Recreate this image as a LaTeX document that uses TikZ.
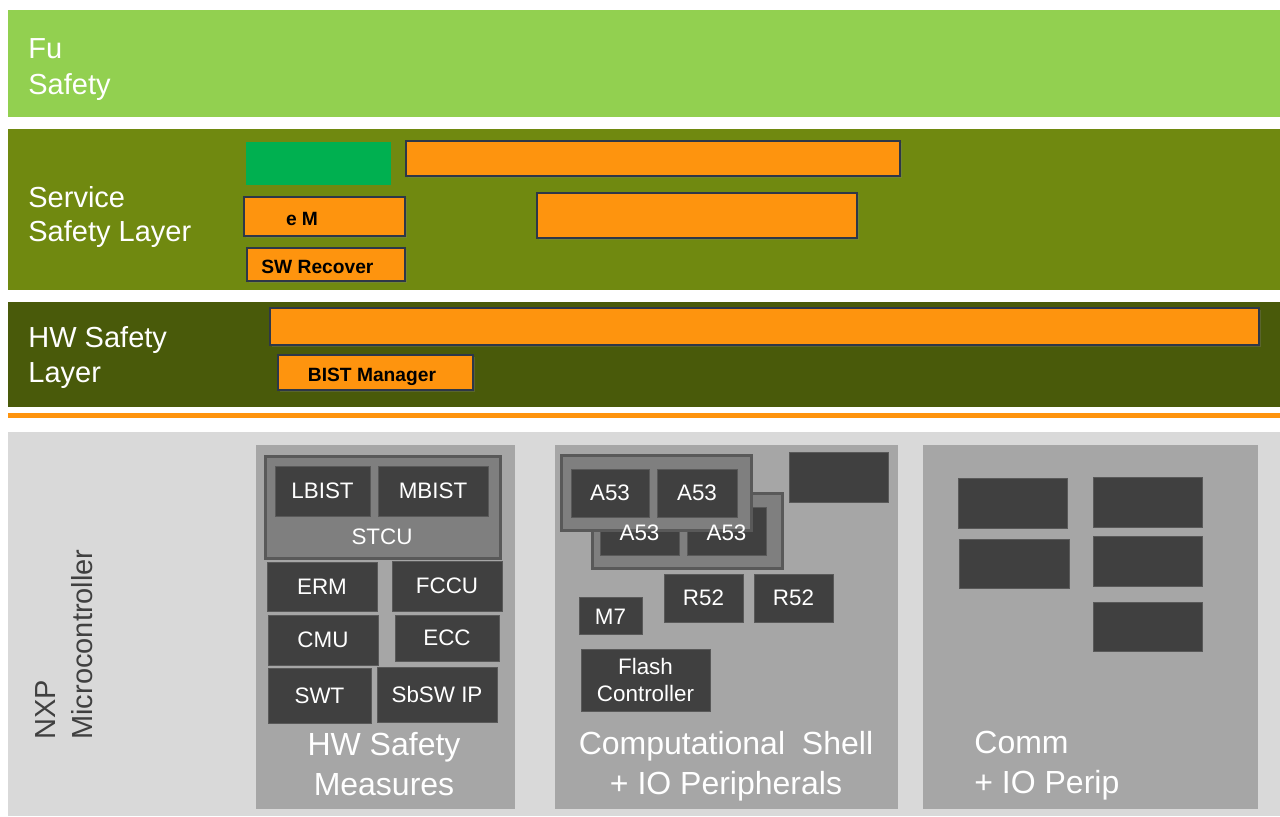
\documentclass[tikz,border=0pt]{standalone}
\usepackage{fontspec}
\setmainfont{Liberation Sans}
\usetikzlibrary{fit,shadows}
\definecolor{lgreen}{RGB}{146,208,80}
\definecolor{olive}{RGB}{112,137,16}
\definecolor{dolive}{RGB}{73,90,10}
\definecolor{org}{RGB}{254,148,14}
\definecolor{bgray}{RGB}{217,217,217}
\definecolor{pgray}{RGB}{166,166,166}
\definecolor{dgray}{RGB}{64,64,64}
\definecolor{mgray}{RGB}{127,127,127}
\definecolor{fgray}{RGB}{89,89,89}
\definecolor{sgreen}{RGB}{0,176,80}
\definecolor{oedge}{RGB}{45,55,72}
\tikzset{
 band/.style={draw=none, inner sep=0, rectangle},
 layerlabel/.style={text=white, align=left, anchor=base west, inner sep=0},
 obox/.style={fill=org, draw=oedge, line width=0.9pt, inner sep=0, drop shadow={shadow xshift=0.8pt, shadow yshift=-0.8pt, opacity=0.3}},
 otext/.style={font=\fontsize{9.6}{11}\selectfont\bfseries, text=black, inner sep=0, anchor=base},
 dbox/.style={fill=dgray, draw=fgray, line width=0.4pt, inner sep=0},
 dtext/.style={text=white, font=\fontsize{11.2}{13.5}\selectfont, inner sep=0, align=center},
 grp/.style={fill=mgray, draw=fgray, line width=1.5pt, inner sep=0},
 panel/.style={fill=pgray, draw=none, inner sep=0},
 plabel/.style={text=white, font=\fontsize{16}{20}\selectfont, inner sep=0},
}
\begin{document}
\begin{tikzpicture}[x=0.5pt,y=-0.5pt]
\fill[white] (0,0) rectangle (1280,816);
\useasboundingbox (0,0) rectangle (1280,816);
% layer bands
\node[band, fill=lgreen, fit={(8,10) (1280,117)}] (fsband) {};
\node[band, fill=olive, fit={(8,129) (1280,290)}] (ssband) {};
\node[band, fill=dolive, fit={(8,302) (1280,407)}] (hsband) {};
\node[band, fill=org, fit={(8,413) (1280,418)}] (oline) {};
\node[band, fill=bgray, fit={(8,432) (1280,816)}] (mcu) {};
% layer labels (anchored at baseline of last line)
\node[layerlabel, font=\fontsize{14.5}{18}\selectfont] (fsl) at (28,94) {Fu\\Safety};
\node[layerlabel, font=\fontsize{14.5}{17}\selectfont] (ssl) at (28,241) {Service\\Safety Layer};
\node[layerlabel, font=\fontsize{14.5}{17.5}\selectfont] (hsl) at (28,382) {HW Safety\\Layer};
% service safety layer boxes
\node[band, fill=sgreen, fit={(246,142) (391,185)}] (gbox) {};
\node[obox, fit={(406,141) (900,176)}] (o1) {};
\node[obox, fit={(244,197) (405,236)}] (em) {};
\node[otext] (emt) at (302,225) {e M};
\node[obox, fit={(537,193) (857,238)}] (o2) {};
\node[obox, fit={(247,248) (405,281)}] (swr) {};
\node[otext, anchor=base west] (swrt) at (261,273) {SW Recover};
% hw safety layer boxes
\node[obox, fit={(270,308) (1259,345)}] (o3) {};
\node[obox, fit={(278,355) (473,390)}] (bist) {};
\node[otext] (bistt) at (372,381) {BIST Manager};
% microcontroller label
\node[rotate=90, anchor=base west, align=left, text=dgray, font=\fontsize{14.5}{18.5}\selectfont, inner sep=0] (nxp) at (92,740) {NXP\\Microcontroller};
% panels
\node[panel, fit={(256,445) (515,809)}] (p1) {};
\node[panel, fit={(555,445) (898,809)}] (p2) {};
\node[panel, fit={(923,445) (1258,809)}] (p3) {};
% panel 1
\node[grp, fit={(265,456) (500,558)}] (stcu) {};
\node[dbox, fit={(275,466) (370,516)}] (lbist) {};
\node[dtext] (lbistt) at (lbist.center) {LBIST};
\node[dbox, fit={(378,466) (488,516)}] (mbist) {};
\node[dtext] (mbistt) at (mbist.center) {MBIST};
\node[dtext] (stcut) at (382,537) {STCU};
\node[dbox, fit={(267,562) (377,611)}] (erm) {};
\node[dtext] (ermt) at (erm.center) {ERM};
\node[dbox, fit={(392,561) (502,611)}] (fccu) {};
\node[dtext] (fccut) at (fccu.center) {FCCU};
\node[dbox, fit={(268,615) (378,665)}] (cmu) {};
\node[dtext] (cmut) at (cmu.center) {CMU};
\node[dbox, fit={(395,615) (499,661)}] (ecc) {};
\node[dtext] (ecct) at (ecc.center) {ECC};
\node[dbox, fit={(268,668) (371,723)}] (swt) {};
\node[dtext] (swtt) at (swt.center) {SWT};
\node[dbox, fit={(377,667) (497,722)}] (sbsw) {};
\node[dtext] (sbswt) at (sbsw.center) {SbSW IP};
\node[plabel, align=center, anchor=base] (p1l) at (384,795) {HW Safety\\Measures};
% panel 2
\node[grp, fit={(592,493) (782,568)}] (ga2) {};
\node[dbox, fit={(600,507) (679,555)}] (a3) {};
\node[dbox, fit={(687,507) (766,555)}] (a4) {};
\node[grp, fit={(561,455) (751,530)}] (ga1) {};
\node[dbox, fit={(571,469) (649,517)}] (a1) {};
\node[dtext] (a1t) at (a1.center) {A53};
\node[dbox, fit={(657,469) (737,517)}] (a2) {};
\node[dtext] (a2t) at (a2.center) {A53};
\node[dtext] (a3t) at ([yshift=-1pt]a3.center) {A53};
\node[dtext] (a4t) at ([yshift=-1pt]a4.center) {A53};
\node[dbox, fit={(789,452) (888,502)}] (c2) {};
\node[dbox, fit={(664,574) (743,622)}] (r1) {};
\node[dtext] (r1t) at (r1.center) {R52};
\node[dbox, fit={(754,574) (833,622)}] (r2) {};
\node[dtext] (r2t) at (r2.center) {R52};
\node[dbox, fit={(579,597) (642,634)}] (m7) {};
\node[dtext] (m7t) at ([yshift=-0.7pt]m7.center) {M7};
\node[dbox, fit={(581,649) (710,711)}] (flash) {};
\node[dtext] (flasht) at (flash.center) {Flash\\Controller};
\node[plabel, align=center, anchor=base] (p2l) at (726,794) {Computational\hspace{0.25em} Shell\\+ IO Peripherals};
% panel 3
\node[dbox, fit={(958,478) (1067,528)}] (q1) {};
\node[dbox, fit={(959,539) (1069,588)}] (q2) {};
\node[dbox, fit={(1093,477) (1202,527)}] (q3) {};
\node[dbox, fit={(1093,536) (1202,586)}] (q4) {};
\node[dbox, fit={(1093,602) (1202,651)}] (q5) {};
\node[plabel, align=left, anchor=base west] (p3l) at (974,793) {Comm\\+ IO Perip};
\end{tikzpicture}
\end{document}
